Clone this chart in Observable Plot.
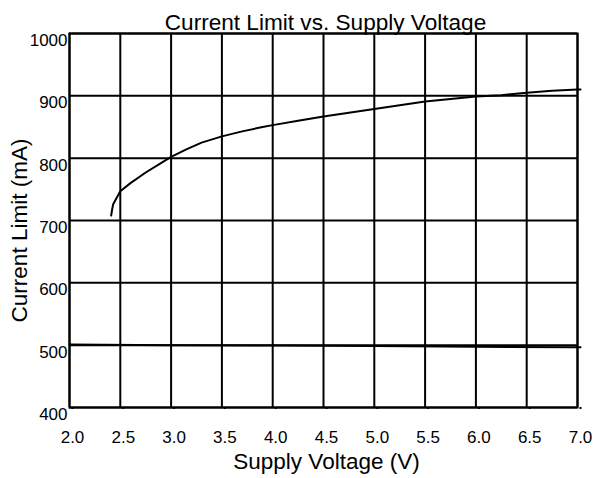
<!DOCTYPE html>
<html><head><meta charset="utf-8">
<script src="https://cdn.jsdelivr.net/npm/d3@7"></script>
<script src="https://cdn.jsdelivr.net/npm/@observablehq/plot@0.6"></script>
<style>body{margin:0;background:#fff}</style></head>
<body><div id="chart"></div>
<script>
const voltage = [2.41, 2.42, 2.43, 2.45, 2.5, 2.6, 2.75, 2.9, 3.0, 3.15, 3.3, 3.5, 3.7, 3.9, 4.0, 4.25, 4.5, 4.75, 5.0, 5.25, 5.5, 5.75, 6.0, 6.25, 6.5, 6.75, 7.0, 7.03];
const currentLimit = [708, 718, 726, 732, 747, 760, 777, 792, 802, 814, 825, 835, 843, 850, 853, 860, 867, 873, 879, 885, 891, 895, 899, 901, 905, 908, 910, 910];
const lowVoltage = [2.0, 3.0, 4.0, 5.0, 6.0, 7.0, 7.03];
const lowCurrent = [501, 500, 499.5, 498.5, 497.5, 496.5, 496.5];
const xTicks = [2.0, 2.5, 3.0, 3.5, 4.0, 4.5, 5.0, 5.5, 6.0, 6.5, 7.0];
const yTicks = [400, 500, 600, 700, 800, 900, 1000];
const titleText = "Current Limit vs. Supply Voltage";
const xLabel = "Supply Voltage (V)";
const yLabel = "Current Limit (mA)";

const upper = voltage.map((v, i) => ({v, c: currentLimit[i]}));
const lower = lowVoltage.map((v, i) => ({v, c: lowCurrent[i]}));

const chart = Plot.plot({
  width: 596, height: 478,
  marginLeft: 69, marginRight: 19, marginTop: 33, marginBottom: 71,
  style: {fontFamily: "'Liberation Sans', Arial, sans-serif", background: "white", color: "black"},
  x: {domain: [2, 7]},
  y: {domain: [400, 1000]},
  marks: [
    Plot.gridX(xTicks, {stroke: "black", strokeOpacity: 1, strokeWidth: 2}),
    Plot.gridY(yTicks, {stroke: "black", strokeOpacity: 1, strokeWidth: 2}),
    Plot.frame({stroke: "black", strokeWidth: 2}),
    Plot.axisX(xTicks, {tickSize: 2, tickPadding: 21, strokeWidth: 2, fontSize: 17, dx: 3, tickFormat: d => d.toFixed(1), label: null}),
    Plot.axisY(yTicks, {tickSize: 0, tickPadding: 2, fontSize: 17, dy: 7, tickFormat: d => String(d), label: null}),
    Plot.line(lower, {x: "v", y: "c", stroke: "black", strokeWidth: 2, clip: false}),
    Plot.line(upper, {x: "v", y: "c", stroke: "black", strokeWidth: 2, clip: false}),
    Plot.text([titleText], {frameAnchor: "top", lineAnchor: "bottom", dy: -4, dx: 2, fontSize: 22.6}),
    Plot.text([xLabel], {frameAnchor: "bottom", lineAnchor: "bottom", dy: 61, dx: 3, fontSize: 22.5}),
    Plot.text([yLabel], {frameAnchor: "left", textAnchor: "middle", lineAnchor: "bottom", rotate: -90, dx: -43, dy: 10, fontSize: 22.5})
  ]
});
document.getElementById("chart").append(chart);
</script></body></html>
